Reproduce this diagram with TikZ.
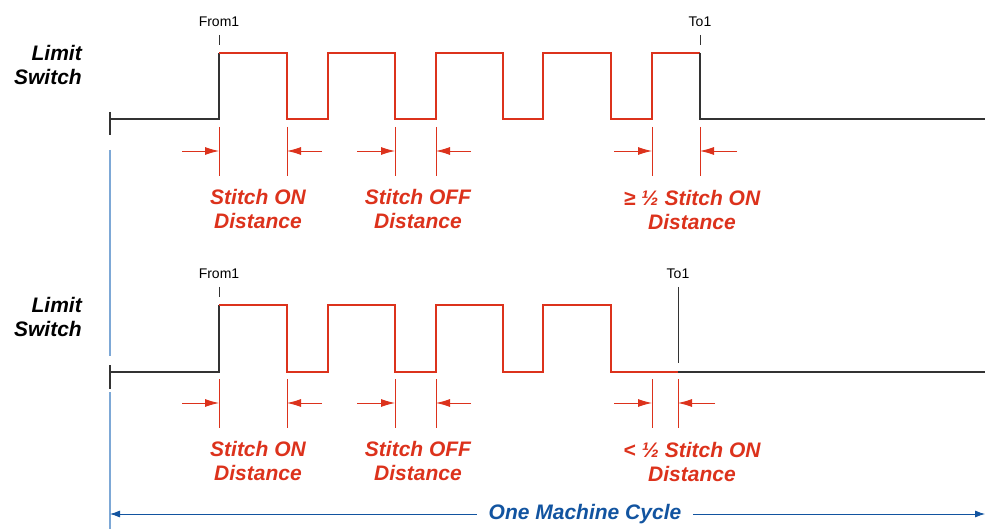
\documentclass[tikz,border=0pt]{standalone}
\usepackage{fontspec}
\setmainfont{Liberation Sans}
\usetikzlibrary{arrows.meta, positioning}
\definecolor{sigred}{RGB}{220,50,28}
\definecolor{cycblue}{RGB}{18,84,160}
\definecolor{guideblue}{RGB}{125,168,214}

\begin{document}
\begin{tikzpicture}[x=1pt, y=-1pt,
  base/.style={line width=1.3pt, black!80},
  sig/.style={line width=1.3pt, sigred},
  dimtick/.style={line width=1pt, sigred},
  dimarrow/.style={line width=0.9pt, sigred, -{Latex[length=14pt,width=8pt]}},
  dimtext/.style={font=\bfseries\itshape\fontsize{21}{24.5}\selectfont,
                  align=center, text=sigred, inner sep=0pt},
  sigtext/.style={font=\bfseries\itshape\fontsize{21}{24.5}\selectfont,
                  align=right, anchor=east, inner sep=0pt},
  marktext/.style={font=\fontsize{14}{14}\selectfont, inner sep=0pt, anchor=base},
  cycarrow/.style={line width=0.8pt, cycblue, -{Latex[length=10pt,width=7pt]}}
]
\useasboundingbox (0,0) rectangle (985,529);

% signal names
\node[sigtext] (lsA) at (82,65) {Limit\\Switch};
\node[sigtext] (lsB) at (82,317) {Limit\\Switch};

% guide line at the start of the cycle
\draw[guideblue, line width=1.2pt] (110,150) -- (110,356);
\draw[guideblue, line width=1.2pt] (110,392) -- (110,529);

% ---- upper trace: last pulse completes ----
\draw[base] (110,112) -- (110,135);
\draw[base] (110,119) -- (219,119) -- (219,53);
\draw[sig] (219,53) -- (287,53) -- (287,119) -- (328,119) -- (328,53)
  -- (395,53) -- (395,119) -- (436,119) -- (436,53) -- (503,53)
  -- (503,119) -- (543,119) -- (543,53) -- (611,53) -- (611,119)
  -- (652,119) -- (652,53) -- (700,53);
\draw[base] (700,53) -- (700,119) -- (985,119);

\node[marktext] (fromA) at (219,27) {From1};
\node[marktext] (toA) at (700,27) {To1};
\draw[base, line width=1pt] (219,35) -- (219,45);
\draw[base, line width=1pt] (700,35) -- (700,45);

% dimension marks, upper trace
\foreach \xa/\xb/\la/\lb in {219/287/182/322, 395/436/357/471, 652/700/614/737} {
  \draw[dimtick] (\xa,127) -- (\xa,176);
  \draw[dimtick] (\xb,127) -- (\xb,176);
  \draw[dimarrow] (\la,151) -- (\xa,151);
  \draw[dimarrow] (\lb,151) -- (\xb,151);
}
\node[dimtext] (onA) at (258,209) {Stitch ON\\Distance};
\node[dimtext] (offA) at (418,209) {Stitch OFF\\Distance};
\node[dimtext] (geA) at (692,210) {≥ ½ Stitch ON\\Distance};

% ---- lower trace: cycle ends inside a gap ----
\draw[base] (110,365) -- (110,389);
\draw[base] (110,372) -- (219,372) -- (219,305);
\draw[sig] (219,305) -- (287,305) -- (287,372) -- (328,372) -- (328,305)
  -- (395,305) -- (395,372) -- (436,372) -- (436,305) -- (503,305)
  -- (503,372) -- (543,372) -- (543,305) -- (611,305) -- (611,372)
  -- (678,372);
\draw[base] (678,372) -- (985,372);

\node[marktext] (fromB) at (219,279) {From1};
\node[marktext] (toB) at (678,279) {To1};
\draw[base, line width=1pt] (219,287) -- (219,297);
\draw[base, line width=1pt] (678,287) -- (678,363);

% dimension marks, lower trace
\foreach \xa/\xb/\la/\lb in {219/287/182/322, 395/436/357/471, 652/678/614/715} {
  \draw[dimtick] (\xa,379) -- (\xa,428);
  \draw[dimtick] (\xb,379) -- (\xb,428);
  \draw[dimarrow] (\la,403) -- (\xa,403);
  \draw[dimarrow] (\lb,403) -- (\xb,403);
}
\node[dimtext] (onB) at (258,461) {Stitch ON\\Distance};
\node[dimtext] (offB) at (418,461) {Stitch OFF\\Distance};
\node[dimtext] (ltB) at (692,462) {< ½ Stitch ON\\Distance};

% machine cycle
\coordinate (cycL) at (110,514);
\coordinate (cycR) at (985,514);
\node[font=\bfseries\itshape\fontsize{21}{24}\selectfont, text=cycblue,
      inner sep=0pt] (cycle) at (585,514) {One Machine Cycle};
\draw[cycarrow] ([xshift=-12pt]cycle.west) -- (cycL);
\draw[cycarrow] ([xshift=12pt]cycle.east) -- (cycR);

\end{tikzpicture}
\end{document}
